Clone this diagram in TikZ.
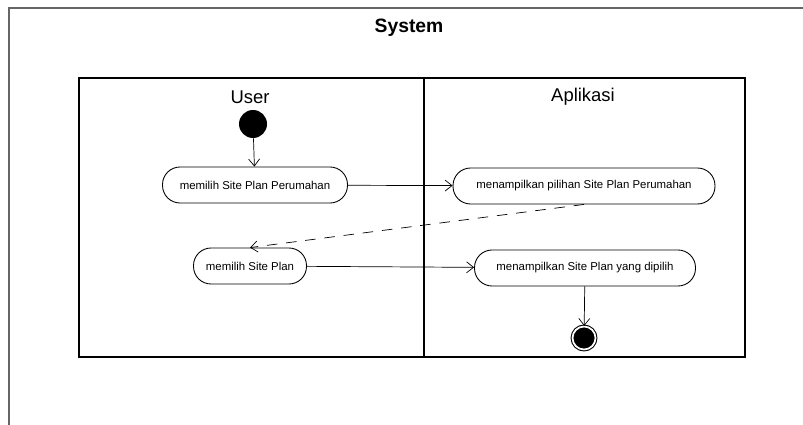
\documentclass[tikz,border=0pt]{standalone}
\usepackage{fontspec}
\setmainfont{Liberation Sans}
\usepackage{tikz}
\usetikzlibrary{arrows.meta}

\begin{document}
\begin{tikzpicture}[
    x=0.02cm, y=-0.02cm,
    frame/.style={draw=black!60, line width=0.6pt},
    swim/.style={draw=black, line width=0.9pt},
    act/.style={
        rectangle,
        rounded corners=3.5mm,
        draw=black,
        line width=0.5pt,
        font=\fontsize{6.5}{8}\selectfont,
        minimum height=0.72cm,
        inner xsep=6pt,
    },
    lane/.style={font=\fontsize{10.5}{12}\selectfont},
    startst/.style={circle, fill=black, minimum size=0.56cm, inner sep=0pt},
    endst/.style={circle, draw=black, fill=black, minimum size=0.46cm, inner sep=0pt,
        double=white, double distance=1pt, line width=0.6pt},
    flow/.style={-{Straight Barb[length=1.4mm, width=2.2mm]}, line width=0.4pt},
    ret/.style={flow, dashed, dash pattern=on 6pt off 5pt}
]
\useasboundingbox (0,0) rectangle (803,425);
% frames
\draw[frame] (9,8) rectangle (812,440);
\node[font=\bfseries\fontsize{11}{13}\selectfont] (sys) at (409,28) {System};
\draw[swim] (79,78) rectangle (745,357);
\draw[swim] (424,78) -- (424,357);
\node[lane] (user) at (250,97) {User};
\node[lane] (app) at (583,97) {Aplikasi};

\node[startst] (start) at (253,124) {};
\node[act, minimum width=3.7cm] (pilihSP) at (255,185) {memilih Site Plan Perumahan};
\node[act, minimum width=5.24cm] (tampilSP) at (584,186) {menampilkan pilihan Site Plan Perumahan};
\node[act, minimum width=2.26cm] (pilih) at (250,266) {memilih Site Plan};
\node[act, minimum width=4.42cm] (tampil) at (585,268) {menampilkan Site Plan yang dipilih};
\node[endst] (stop) at (584,338) {};

\draw[flow] (start) -- (pilihSP);
\draw[flow] (pilihSP) -- (tampilSP);
\draw[ret] (tampilSP.south) -- (pilih.north);
\draw[flow] (pilih) -- (tampil);
\draw[flow] (tampil) -- (stop);
\end{tikzpicture}
\end{document}
